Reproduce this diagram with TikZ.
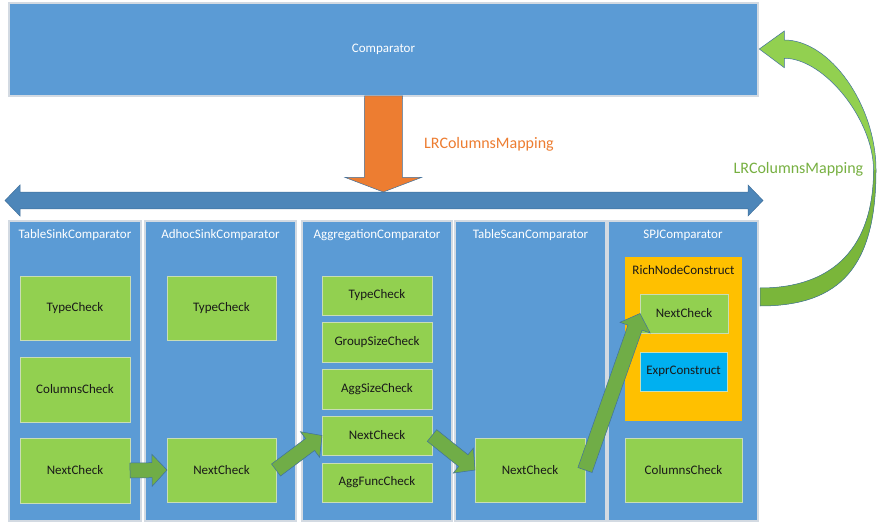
\documentclass[tikz,border=0pt]{standalone}
\usepackage{fontspec}
\setmainfont{Carlito}
\usetikzlibrary{calc}
\definecolor{compblue}{HTML}{5B9BD5}
\definecolor{darrowblue}{HTML}{4D86B9}
\definecolor{outlineblue}{HTML}{41719C}
\definecolor{bordergray}{HTML}{D3DAE2}
\definecolor{chkgreen}{HTML}{92D050}
\definecolor{chkborder}{HTML}{C9DDB5}
\definecolor{arrgreen}{HTML}{70AD47}
\definecolor{darkgreen}{HTML}{7AB63A}
\definecolor{orangefill}{HTML}{ED7D31}
\definecolor{richyellow}{HTML}{FFC000}
\definecolor{exprcyan}{HTML}{00B0F0}
\definecolor{labelgreen}{HTML}{77B041}
\newcommand{\barrow}[6]{%
  \coordinate (ba-A) at #1;
  \coordinate (ba-B) at #2;
  \coordinate (ba-H) at ($(ba-B)!#5!(ba-A)$);
  \draw[#6] ($(ba-A)!#3!90:(ba-B)$) -- ($(ba-H)!#3!90:(ba-B)$) -- ($(ba-H)!#4!90:(ba-B)$) -- (ba-B)
     -- ($(ba-H)!#4!-90:(ba-B)$) -- ($(ba-H)!#3!-90:(ba-B)$) -- ($(ba-A)!#3!-90:(ba-B)$) -- cycle;
}
\newcommand{\curvedpath}{(759.3,49) -- (784.3,31) -- (784.3,40)
  .. controls (830,40) and (876,105) .. (876,170)
  .. controls (876,266) and (841,306) .. (760,306)
  -- (760,288)
  .. controls (833.8,288) and (873.5,246.7) .. (873.5,170)
  .. controls (873.5,119.8) and (824.3,58.3) .. (784.3,58.3)
  -- (784.3,67.7) -- cycle}
\begin{document}
\begin{tikzpicture}[x=1pt,y=-1pt,
  base/.style={inner sep=0pt, outer sep=0pt, anchor=north west, font=\fontsize{13}{15}\selectfont},
  colbox/.style={base, fill=compblue, draw=bordergray, line width=1.2pt},
  chk/.style={base, fill=chkgreen, draw=chkborder, line width=1pt, text=black!90},
  title/.style={inner sep=0pt, font=\fontsize{13}{15}\selectfont, text=white},
  lbl/.style={inner sep=0pt, font=\fontsize{16}{18}\selectfont},
  smallarrow/.style={fill=arrgreen, draw=outlineblue, line width=0.5pt, line join=miter},
  bigarrow/.style={draw=outlineblue, line width=0.5pt, line join=miter}]
\useasboundingbox (0,0) rectangle (885,529);
\fill[white] (0,0) rectangle (885,529);

% Comparator
\node[colbox, minimum width=749pt, minimum height=93pt] (comp) at (9,3) {};
\node[title] (comptxt) at (comp.center) {Comparator};

% double arrow
\coordinate (dl) at (5,200.5);
\coordinate (dr) at (763,200.5);
\draw[bigarrow, fill=darrowblue] (dl) -- ($(dl)+(15,-15.5)$) -- ($(dl)+(15,-8.3)$) -- ($(dr)+(-15,-8.3)$)
  -- ($(dr)+(-15,-15.5)$) -- (dr) -- ($(dr)+(-15,15.5)$) -- ($(dr)+(-15,8.3)$)
  -- ($(dl)+(15,8.3)$) -- ($(dl)+(15,15.5)$) -- cycle;

% orange arrow
\coordinate (ot) at (383.3,192);
\draw[bigarrow, fill=orangefill] ($(comp.south)+(-19,0)$) -- ($(ot)+(-19,-14.5)$) -- ($(ot)+(-38,-14.5)$)
  -- (ot) -- ($(ot)+(38,-14.5)$) -- ($(ot)+(19,-14.5)$) -- ($(comp.south)+(19,0)$) -- cycle;
\node[lbl, text=orangefill] (lblo) at (489,144) {LRColumnsMapping};

% columns
\node[colbox, minimum width=132pt, minimum height=300pt] (c1) at (9,221) {};
\node[colbox, minimum width=151pt, minimum height=300pt] (c2) at (145,221) {};
\node[colbox, minimum width=150pt, minimum height=300pt] (c3) at (302,221) {};
\node[colbox, minimum width=151pt, minimum height=300pt] (c4) at (455,221) {};
\node[colbox, minimum width=150pt, minimum height=300pt] (c5) at (608,221) {};
\node[title] (t1) at ($(c1.north)+(0,14)$) {TableSinkComparator};
\node[title] (t2) at ($(c2.north)+(0,14)$) {AdhocSinkComparator};
\node[title] (t3) at ($(c3.north)+(0,14)$) {AggregationComparator};
\node[title] (t4) at ($(c4.north)+(0,14)$) {TableScanComparator};
\node[title] (t5) at ($(c5.north)+(0,14)$) {SPJComparator};

% column 1
\node[chk, minimum width=110pt, minimum height=64pt] (tc1) at (20,276) {TypeCheck};
\node[chk, minimum width=110pt, minimum height=65pt] (cc1) at (20,357) {ColumnsCheck};
\node[chk, minimum width=110pt, minimum height=65pt] (n1) at (20,438) {NextCheck};
% column 2
\node[chk, minimum width=109pt, minimum height=64pt] (tc2) at (167,276) {TypeCheck};
\node[chk, minimum width=109pt, minimum height=64pt] (n2) at (167,438) {NextCheck};
% column 3
\node[chk, minimum width=110pt, minimum height=39pt] (tc3) at (322,276) {TypeCheck};
\node[chk, minimum width=110pt, minimum height=40pt] (gs3) at (322,322) {GroupSizeCheck};
\node[chk, minimum width=110pt, minimum height=40pt] (as3) at (322,369) {AggSizeCheck};
\node[chk, minimum width=110pt, minimum height=39pt] (n3) at (322,416) {NextCheck};
\node[chk, minimum width=110pt, minimum height=39pt] (af3) at (322,463) {AggFuncCheck};
% column 4
\node[chk, minimum width=110pt, minimum height=64pt] (n4) at (475,438) {NextCheck};
% column 5
\node[base, fill=richyellow, minimum width=117pt, minimum height=164pt] (rich) at (625,257) {};
\node[inner sep=0pt, font=\fontsize{13}{15}\selectfont, text=black!90] (richtxt) at ($(rich.north)+(0,13)$) {RichNodeConstruct};
\node[chk, minimum width=88pt, minimum height=39pt] (n5) at (640,294) {NextCheck};
\node[base, fill=exprcyan, draw=chkborder, line width=0.6pt, text=black!90, minimum width=87pt, minimum height=39pt] (expr) at (640,352) {ExprConstruct};
\node[chk, minimum width=117pt, minimum height=64pt] (cc5) at (625,438) {ColumnsCheck};

% small green arrows
\barrow{(n1.east)}{(n2.west)}{7.5pt}{16pt}{15pt}{smallarrow}
\barrow{(n2.east)}{(n3.west)}{7.5pt}{16pt}{15pt}{smallarrow}
\barrow{(n3.east)}{(n4.west)}{7.5pt}{16pt}{15pt}{smallarrow}
\barrow{(n4.east)}{(n5.west)}{7.5pt}{16pt}{15pt}{smallarrow}

% curved arrow back to Comparator
\fill[chkgreen] \curvedpath;
\fill[darkgreen] (876,170) .. controls (876,266) and (841,306) .. (760,306)
  -- (760,288) .. controls (833.8,288) and (873.5,246.7) .. (873.5,170) -- cycle;
\draw[outlineblue, line width=0.5pt, line join=miter] \curvedpath;
\node[lbl, text=labelgreen] (lblg) at (798.5,169) {LRColumnsMapping};
\end{tikzpicture}
\end{document}
